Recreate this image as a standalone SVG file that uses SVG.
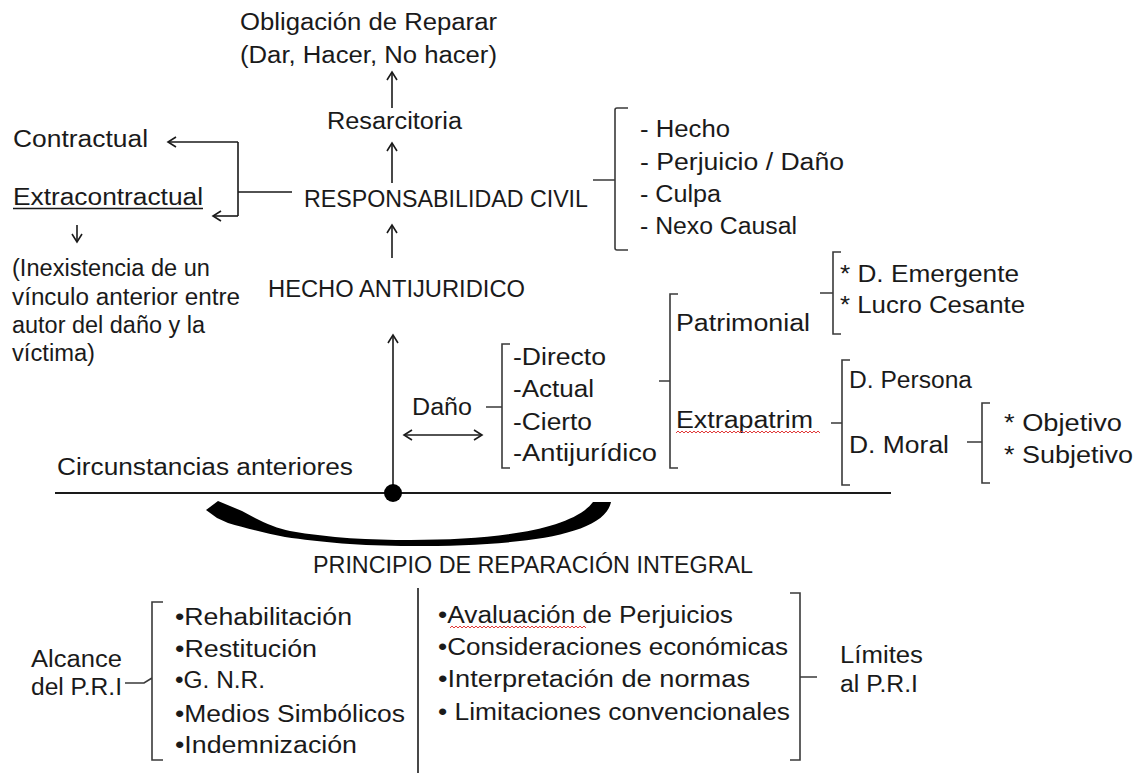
<svg xmlns="http://www.w3.org/2000/svg" width="1147" height="773" viewBox="0 0 1147 773">
<style>
text{font-family:"Liberation Sans",Arial,sans-serif;font-size:23px;fill:#1a1a1a;}
.br{fill:none;stroke:#3a3a3a;stroke-width:1.6;}
.ln{fill:none;stroke:#1a1a1a;stroke-width:1.6;}
.ar{fill:none;stroke:#1a1a1a;stroke-width:1.6;marker-end:url(#ah);}
.wave{fill:none;stroke:#e03a3a;stroke-width:1;}
</style>
<defs>
<marker id="ah" markerUnits="userSpaceOnUse" markerWidth="14" markerHeight="14" refX="10" refY="6" orient="auto">
<path d="M2,1 L10,6 L2,11" fill="none" stroke="#1a1a1a" stroke-width="1.6"/>
</marker>
<marker id="ahs" markerUnits="userSpaceOnUse" markerWidth="14" markerHeight="14" refX="2" refY="6" orient="auto">
<path d="M10,1 L2,6 L10,11" fill="none" stroke="#1a1a1a" stroke-width="1.6"/>
</marker>
</defs>
<rect width="1147" height="773" fill="#ffffff"/>

<g id="connectors">
<path class="ar" d="M392,108 L392,72"/>
<path class="ar" d="M392,183 L392,143"/>
<path class="ar" d="M392,258 L392,225"/>
<path class="ar" d="M393,493 L393,335"/>
<path class="ln" d="M292,192 L238,192 M238,142 L238,216"/>
<path class="ar" d="M238,142 L168,142"/>
<path class="ar" d="M238,216 L213,216"/>
<path class="ar" d="M77,225 L77,242"/>
<path class="ar" d="M404,435 L482,435" marker-start="url(#ahs)"/>
<path fill="none" stroke="#1a1a1a" stroke-width="2" d="M55,493 L891,493"/>
<circle cx="393" cy="493" r="9" fill="#000"/>
<path fill="#000" d="M206,510 L218,501 L242,511 C258,520 275,528 290,531 C330,538 370,540 411,540 C495,540 572,530 593,502 L611,502 C604,537 515,546 411,546 C360,546 320,542 285,537 C265,533 245,528 228,523 L217,518 Z"/>
</g>

<g id="obligacion">
<text x="240" y="30" textLength="257" lengthAdjust="spacingAndGlyphs">Obligación de Reparar</text>
<text x="240" y="63" textLength="257" lengthAdjust="spacingAndGlyphs">(Dar, Hacer, No hacer)</text>
</g>
<g id="resarcitoria"><text x="327" y="129" textLength="135" lengthAdjust="spacingAndGlyphs">Resarcitoria</text></g>
<g id="responsabilidad"><text x="304" y="207" textLength="284" lengthAdjust="spacingAndGlyphs">RESPONSABILIDAD CIVIL</text></g>
<g id="hecho"><text x="268" y="297" textLength="257" lengthAdjust="spacingAndGlyphs">HECHO ANTIJURIDICO</text></g>
<g id="contractual"><text x="13" y="147" textLength="135" lengthAdjust="spacingAndGlyphs">Contractual</text></g>
<g id="extracontractual">
<text x="13" y="205" textLength="190" lengthAdjust="spacingAndGlyphs">Extracontractual</text>
<path class="ln" d="M13,208.5 L203,208.5" stroke-width="1.4"/>
</g>
<g id="inexistencia">
<text x="12" y="276" textLength="198" lengthAdjust="spacingAndGlyphs">(Inexistencia de un</text>
<text x="12" y="305" textLength="228" lengthAdjust="spacingAndGlyphs">vínculo anterior entre</text>
<text x="12" y="333" textLength="193" lengthAdjust="spacingAndGlyphs">autor del daño y la</text>
<text x="12" y="361" textLength="83" lengthAdjust="spacingAndGlyphs">víctima)</text>
</g>

<g id="elementos">
<path class="br" d="M628,108 L617,108 Q615,108 615,110 L615,248 Q615,250 617,250 L628,250 M593,180 L615,180"/>
<text x="640" y="137" textLength="90" lengthAdjust="spacingAndGlyphs">- Hecho</text>
<text x="640" y="170" textLength="204" lengthAdjust="spacingAndGlyphs">- Perjuicio / Daño</text>
<text x="640" y="202" textLength="81" lengthAdjust="spacingAndGlyphs">- Culpa</text>
<text x="640" y="234" textLength="157" lengthAdjust="spacingAndGlyphs">- Nexo Causal</text>
</g>

<g id="patrimonial">
<path class="br" d="M678,294 L670,294 L670,468 L678,468 M659,381 L670,381"/>
<text x="676" y="331" textLength="134" lengthAdjust="spacingAndGlyphs">Patrimonial</text>
</g>
<g id="emergente">
<path class="br" d="M841,252 L833,252 L833,334 L841,334 M820,293 L833,293"/>
<text x="840" y="282" textLength="179" lengthAdjust="spacingAndGlyphs">* D. Emergente</text>
<text x="840" y="313" textLength="185" lengthAdjust="spacingAndGlyphs">* Lucro Cesante</text>
</g>
<g id="extrapatrim">
<text x="676" y="428" textLength="137" lengthAdjust="spacingAndGlyphs">Extrapatrim</text>
<path class="wave" d="M676,433 l2,-2 l2,2 l2,-2 l2,2 l2,-2 l2,2 l2,-2 l2,2 l2,-2 l2,2 l2,-2 l2,2 l2,-2 l2,2 l2,-2 l2,2 l2,-2 l2,2 l2,-2 l2,2 l2,-2 l2,2 l2,-2 l2,2 l2,-2 l2,2 l2,-2 l2,2 l2,-2 l2,2 l2,-2 l2,2 l2,-2 l2,2 l2,-2 l2,2 l2,-2 l2,2 l2,-2 l2,2 l2,-2 l2,2 l2,-2 l2,2 l2,-2 l2,2 l2,-2 l2,2 l2,-2 l2,2 l2,-2 l2,2 l2,-2 l2,2 l2,-2 l2,2 l2,-2 l2,2 l2,-2 l2,2 l2,-2 l2,2 l2,-2 l2,2 l2,-2 l2,2 l2,-2 l2,2 l2,-2 l2,2 l2,-2 l2,2"/>
<path class="br" d="M850,360 L842,360 L842,485 L850,485 M831,423 L842,423"/>
</g>
<g id="persona"><text x="849" y="388" textLength="123" lengthAdjust="spacingAndGlyphs">D. Persona</text></g>
<g id="moral">
<text x="849" y="453" textLength="100" lengthAdjust="spacingAndGlyphs">D. Moral</text>
<path class="br" d="M990,403 L982,403 L982,483 L990,483 M967,442 L982,442"/>
<text x="1004" y="431" textLength="118" lengthAdjust="spacingAndGlyphs">* Objetivo</text>
<text x="1004" y="463" textLength="129" lengthAdjust="spacingAndGlyphs">* Subjetivo</text>
</g>

<g id="dano">
<text x="412" y="415" textLength="60" lengthAdjust="spacingAndGlyphs">Daño</text>
<path class="br" d="M510,344 L502,344 L502,468 L510,468 M486,407 L502,407"/>
<text x="513" y="365" textLength="93" lengthAdjust="spacingAndGlyphs">-Directo</text>
<text x="513" y="397" textLength="81" lengthAdjust="spacingAndGlyphs">-Actual</text>
<text x="513" y="430" textLength="79" lengthAdjust="spacingAndGlyphs">-Cierto</text>
<text x="513" y="461" textLength="144" lengthAdjust="spacingAndGlyphs">-Antijurídico</text>
</g>
<g id="circunstancias"><text x="57" y="475" textLength="296" lengthAdjust="spacingAndGlyphs">Circunstancias anteriores</text></g>

<g id="principio"><text x="313" y="573" textLength="440" lengthAdjust="spacingAndGlyphs">PRINCIPIO DE REPARACIÓN INTEGRAL</text></g>
<g id="separador"><path class="ln" d="M418,588 L418,773" stroke-width="1.4"/></g>

<g id="alcance">
<text x="31" y="667" textLength="91" lengthAdjust="spacingAndGlyphs">Alcance</text>
<text x="31" y="695" textLength="91" lengthAdjust="spacingAndGlyphs">del P.R.I</text>
<path class="br" d="M163,602 L152,602 L152,760 L163,760 M125,683 L144,683 L152,678"/>
<text x="175" y="625" textLength="177" lengthAdjust="spacingAndGlyphs">•Rehabilitación</text>
<text x="175" y="657" textLength="142" lengthAdjust="spacingAndGlyphs">•Restitución</text>
<text x="175" y="688" textLength="90" lengthAdjust="spacingAndGlyphs">•G. N.R.</text>
<text x="175" y="722" textLength="230" lengthAdjust="spacingAndGlyphs">•Medios Simbólicos</text>
<text x="175" y="753" textLength="182" lengthAdjust="spacingAndGlyphs">•Indemnización</text>
</g>

<g id="limites">
<text x="438" y="623" textLength="295" lengthAdjust="spacingAndGlyphs">•Avaluación de Perjuicios</text>
<path class="wave" d="M450,628 l2,-2 l2,2 l2,-2 l2,2 l2,-2 l2,2 l2,-2 l2,2 l2,-2 l2,2 l2,-2 l2,2 l2,-2 l2,2 l2,-2 l2,2 l2,-2 l2,2 l2,-2 l2,2 l2,-2 l2,2 l2,-2 l2,2 l2,-2 l2,2 l2,-2 l2,2 l2,-2 l2,2 l2,-2 l2,2 l2,-2 l2,2 l2,-2 l2,2 l2,-2 l2,2 l2,-2 l2,2 l2,-2 l2,2 l2,-2 l2,2 l2,-2 l2,2 l2,-2 l2,2 l2,-2 l2,2 l2,-2 l2,2 l2,-2 l2,2 l2,-2 l2,2 l2,-2 l2,2 l2,-2 l2,2 l2,-2 l2,2 l2,-2 l2,2 l2,-2 l2,2 l2,-2 l2,2"/>
<text x="438" y="655" textLength="350" lengthAdjust="spacingAndGlyphs">•Consideraciones económicas</text>
<text x="438" y="687" textLength="312" lengthAdjust="spacingAndGlyphs">•Interpretación de normas</text>
<text x="438" y="720" textLength="352" lengthAdjust="spacingAndGlyphs">• Limitaciones convencionales</text>
<path class="br" d="M790,593 L800,593 L800,760 L790,760 M800,677 L817,677"/>
<text x="840" y="663" textLength="83" lengthAdjust="spacingAndGlyphs">Límites</text>
<text x="840" y="692" textLength="78" lengthAdjust="spacingAndGlyphs">al P.R.I</text>
</g>
</svg>
